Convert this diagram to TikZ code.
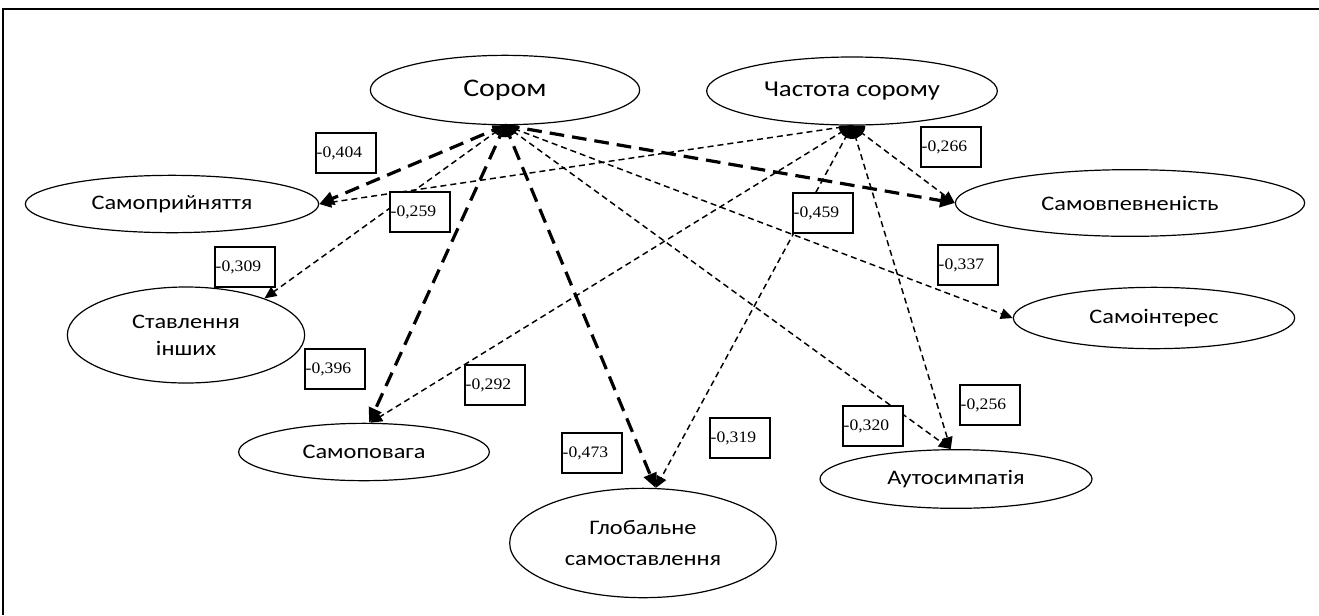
\documentclass[tikz,border=0pt]{standalone}
\usepackage{fontspec}
\setmainfont{Carlito}
\newfontfamily\lab[FakeStretch=1.18]{Carlito}
\newfontfamily\num[FakeStretch=1.1]{Liberation Serif}
\usetikzlibrary{shapes.geometric,arrows.meta}
\begin{document}
\begin{tikzpicture}[x=0.75pt,y=-0.75pt,
 ell/.style={draw, line width=0.9pt, ellipse, inner sep=0pt, align=center,
   font=\lab\fontsize{15.5}{20}\selectfont},
 val/.style={draw, fill=white, line width=0.8pt, rectangle, minimum height=30pt,
   text width=44pt, inner xsep=0.5pt, inner ysep=0pt, align=left,
   font=\num\fontsize{12}{14}\selectfont},
 thickarr/.style={line width=2.4pt, dash pattern=on 11pt off 6pt,
   -{Triangle[length=11pt,width=10pt]}},
 thinarr/.style={line width=1.1pt, dash pattern=on 4.5pt off 3pt,
   -{Triangle[length=9pt,width=8pt]}},
 blob/.style={fill=black}
]
\useasboundingbox (0,0) rectangle (1319,615);
\draw[line width=1.5pt] (3,615) -- (3,9) -- (1319,9);

% ellipses
\node[ell, minimum width=202pt, minimum height=52pt, font=\lab\fontsize{19}{22}\selectfont] (sorom) at (505,90) {Сором};
\node[ell, minimum width=218pt, minimum height=51pt, font=\lab\fontsize{17}{20}\selectfont] (chast) at (852,91) {Частота сорому};
\node[ell, minimum width=220pt, minimum height=43pt] (samopr) at (172,204) {Самоприйняття};
\node[ell, minimum width=262pt, minimum height=50pt] (samovp) at (1130,203) {Самовпевненість};
\node[ell, minimum width=178pt, minimum height=72pt] (stavl) at (186,335) {Ставлення\\інших};
\node[ell, minimum width=211pt, minimum height=46pt] (samoint) at (1154,318) {Самоінтерес};
\node[ell, minimum width=188pt, minimum height=43pt] (samopov) at (364,452) {Самоповага};
\node[ell, minimum width=200pt, minimum height=82pt, font=\lab\fontsize{15.5}{23}\selectfont] (glob) at (643,543) {Глобальне\\самоставлення};
\node[ell, minimum width=204pt, minimum height=44pt] (auto) at (956,479) {Аутосимпатія};

% connectors
\draw[thickarr] (sorom.south) -- (samopr.east);
\draw[thinarr]  (sorom.south) -- (stavl.25);
\draw[thickarr] (sorom.south) -- (samopov.80);
\draw[thickarr] (sorom.south) -- (glob.77);
\draw[thickarr] (sorom.south) -- (samovp.west);
\draw[thinarr]  (sorom.south) -- (samoint.west);
\draw[thinarr]  (sorom.south) -- (auto.100);
\draw[thinarr]  (chast.south) -- (samopr.east);
\draw[thinarr]  (chast.south) -- (samopov.78);
\draw[thinarr]  (chast.south) -- (glob.77);
\draw[thinarr]  (chast.south) -- (samovp.west);
\draw[thinarr]  (chast.south) -- (auto.100);

% blobs at sources
\fill[blob] ([xshift=-10pt]sorom.south) arc[start angle=180,end angle=360,x radius=10pt,y radius=9pt] -- cycle;
\fill[blob] ([xshift=-10pt]chast.south) arc[start angle=180,end angle=360,x radius=10pt,y radius=10pt] -- cycle;

% value labels
\node[val] (l404) at (346,153) {-0,404};
\node[val] (l259) at (420,212) {-0,259};
\node[val] (l309) at (245,267) {-0,309};
\node[val] (l396) at (335,369) {-0,396};
\node[val] (l292) at (495,385) {-0,292};
\node[val] (l473) at (592,453) {-0,473};
\node[val] (l319) at (740,438) {-0,319};
\node[val] (l320) at (873,426) {-0,320};
\node[val] (l256) at (990,405) {-0,256};
\node[val] (l459) at (823,213) {-0,459};
\node[val] (l266) at (951,147) {-0,266};
\node[val] (l337) at (968,265) {-0,337};
\end{tikzpicture}
\end{document}
